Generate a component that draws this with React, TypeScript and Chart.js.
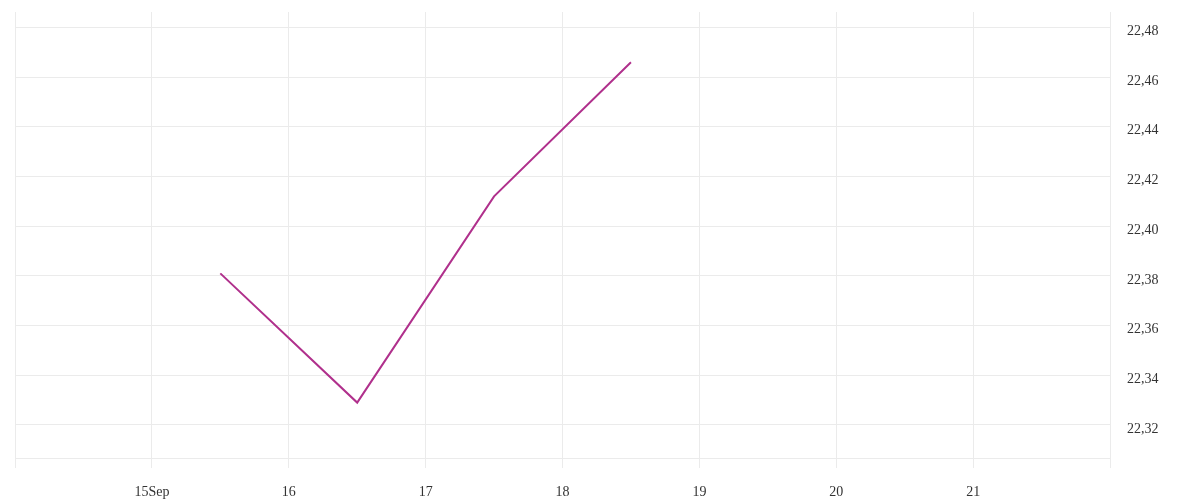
import React, { useEffect, useRef } from "react";
import { Chart, registerables } from "chart.js";

Chart.register(...registerables);

// Data (x = day of September, at midday)
const days: number[] = [15.5, 16.5, 17.5, 18.5];
const values: number[] = [22.381, 22.329, 22.412, 22.466];

// Axis settings
const xMin = 14;
const xMax = 22;
const yMin = 22.3067;
const yMax = 22.4862;
const yStep = 0.02;
const monthLabel = "Sep";
const firstLabelDay = 15;

export default function App() {
  const canvasRef = useRef<HTMLCanvasElement | null>(null);

  useEffect(() => {
    const canvas = canvasRef.current;
    if (!canvas) return;
    const chart = new Chart(canvas, {
      type: "line",
      data: {
        datasets: [
          {
            data: days.map((d, i) => ({ x: d, y: values[i] })),
            borderColor: "#b0308c",
            borderWidth: 2,
            pointRadius: 0,
            pointHoverRadius: 0,
            fill: false,
            tension: 0,
          },
        ],
      },
      options: {
        animation: false,
        responsive: true,
        maintainAspectRatio: false,
        layout: { padding: { left: 15, top: 12, right: 0, bottom: 0 } },
        plugins: { legend: { display: false }, tooltip: { enabled: false } },
        scales: {
          x: {
            type: "linear",
            min: xMin,
            max: xMax,
            ticks: {
              stepSize: 1,
              padding: 16,
              color: "#333333",
              font: { family: "'Liberation Serif', serif", size: 14 },
              maxRotation: 0,
              autoSkip: false,
              callback: (v: any) => {
                const n = Number(v);
                if (n === xMin || n === xMax) return "";
                return n === firstLabelDay ? `${n}${monthLabel}` : `${n}`;
              },
            },
            grid: { color: "#ebebeb", tickLength: 10, drawTicks: true },
            border: { display: true, color: "#ebebeb" },
            afterFit: (scale: any) => {
              scale.height = 42;
              scale.paddingLeft = 0;
              scale.paddingRight = 0;
            },
          },
          y: {
            type: "linear",
            position: "right",
            min: yMin,
            max: yMax,
            ticks: {
              stepSize: yStep,
              includeBounds: false,
              padding: 17,
              labelOffset: 4,
              color: "#333333",
              font: { family: "'Liberation Serif', serif", size: 14 },
              callback: (v: any) => Number(v).toFixed(2).replace(".", ","),
            },
            grid: { color: "#ebebeb", drawTicks: false },
            border: { display: false },
            afterFit: (scale: any) => {
              scale.width = 90;
              scale.paddingTop = 0;
              scale.paddingBottom = 0;
            },
          },
        },
      },
    });
    return () => chart.destroy();
  }, []);

  return (
    <div style={{ position: "fixed", left: 0, top: 0, width: 1200, height: 500 }}>
      <canvas ref={canvasRef} />
    </div>
  );
}
